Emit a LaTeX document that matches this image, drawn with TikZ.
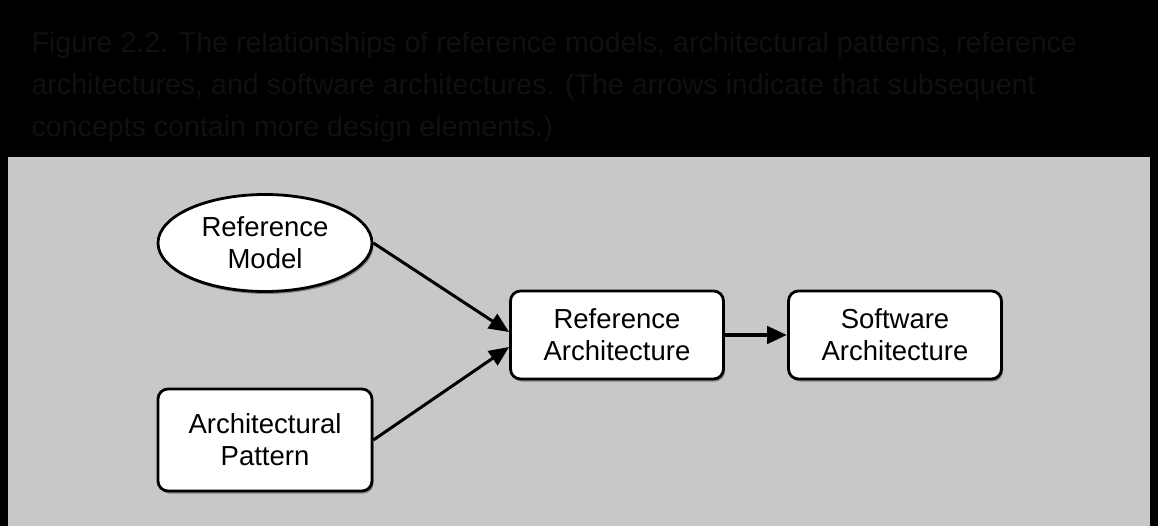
\documentclass[tikz,border=0pt]{standalone}
\usepackage{fontspec}
\setmainfont{Liberation Sans}
\usetikzlibrary{shapes.geometric,arrows.meta,shadows}
\definecolor{panel}{RGB}{200,200,200}
\definecolor{dimtext}{RGB}{16,16,16}
\tikzset{
  nodefont/.style={font=\fontsize{27.5}{32}\selectfont},
  box/.style={draw=black, line width=2.8pt, fill=white, rounded corners=10pt,
    align=center, nodefont,
    drop shadow={shadow xshift=1.5pt, shadow yshift=-2.5pt, fill=black!60, opacity=0.7}},
  oval/.style={draw=black, line width=2.8pt, fill=white, ellipse,
    minimum width=214pt, minimum height=97pt, inner sep=0pt, align=center, nodefont,
    drop shadow={shadow xshift=1.5pt, shadow yshift=-2.5pt, fill=black!60, opacity=0.7}},
  link/.style={line width=3pt, -{Triangle[length=20pt,width=17pt]}},
  caption/.style={text=dimtext, anchor=west, font=\fontsize{28.6}{41}\selectfont}
}
\begin{document}
\begin{tikzpicture}[x=1pt,y=-1pt]
\fill[black] (0,0) rectangle (1158,526);
\useasboundingbox (0,0) rectangle (1158,526);
\fill[panel] (8,157) rectangle (1150,526);
\node[caption] (l1) at (28,45) {Figure 2.2. The relationships of reference models, architectural patterns, reference};
\node[caption] (l2) at (28,87) {architectures, and software architectures. (The arrows indicate that subsequent};
\node[caption] (l3) at (28,129) {concepts contain more design elements.)};
\node[oval] (rm) at (265,243) {Reference\\Model};
\node[box, minimum width=214pt, minimum height=102pt] (ap) at (265,440) {Architectural\\Pattern};
\node[box, minimum width=213pt, minimum height=88pt] (ra) at (617,335) {Reference\\Architecture};
\node[box, minimum width=213pt, minimum height=88pt] (sa) at (895,335) {Software\\Architecture};
\draw[link] (rm.east) -- ([yshift=3pt]ra.west);
\draw[link] (ap.east) -- ([yshift=-12pt]ra.west);
\draw[link, line width=4.5pt] (ra.east) -- (sa.west);
\end{tikzpicture}
\end{document}
